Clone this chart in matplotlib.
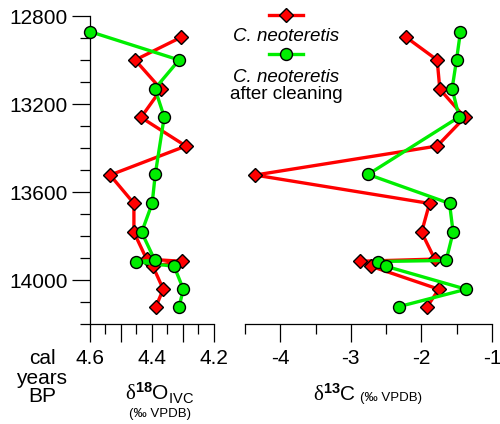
import matplotlib
matplotlib.use("Agg")
import matplotlib.pyplot as plt
from matplotlib.lines import Line2D
from matplotlib.ticker import FixedLocator, FixedFormatter, MultipleLocator
import numpy as np

plt.rcParams['font.family'] = ['Liberation Sans', 'DejaVu Sans']
plt.rcParams['axes.unicode_minus'] = False
plt.rcParams['mathtext.fontset'] = 'custom'
plt.rcParams['mathtext.rm'] = 'Liberation Serif'
plt.rcParams['mathtext.sf'] = 'Liberation Sans'
plt.rcParams['mathtext.bf'] = 'Liberation Sans:bold'
plt.rcParams['mathtext.it'] = 'Liberation Sans:italic'

# ---- data ----
age_red = [12897, 13000, 13133, 13261, 13391, 13523, 13652, 13783,
           13905, 13915, 13937, 14042, 14121]
d18O_red = [4.306, 4.454, 4.370, 4.435, 4.290, 4.535, 4.458, 4.458,
            4.417, 4.303, 4.397, 4.363, 4.387]
d13C_red = [-2.215, -1.777, -1.739, -1.386, -1.777, -4.358, -1.885, -1.998,
            -1.811, -2.874, -2.719, -1.754, -1.918]

age_green = [12871, 13000, 13130, 13259, 13520, 13652, 13783,
             13911, 13916, 13938, 14042, 14121]
d18O_green = [4.600, 4.312, 4.390, 4.360, 4.389, 4.399, 4.433,
              4.390, 4.452, 4.328, 4.298, 4.312]
d13C_green = [-1.447, -1.503, -1.565, -1.466, -2.756, -1.602, -1.551,
              -1.650, -2.610, -2.500, -1.367, -2.318]

y_ticks = [12800, 13200, 13600, 14000]
x1_ticks = [4.6, 4.5, 4.4, 4.3, 4.2]
x1_labels = ['4.6', '', '4.4', '', '4.2']
x2_ticks = [-4, -3, -2, -1]
x2_labels = ['-4', '-3', '-2', '-1']

legend_labels = ['C. neoteretis', 'C. neoteretis', 'after cleaning']

RED = '#FF0000'
GREEN = '#00EE00'

W, H = 500, 424
fig = plt.figure(figsize=(5, 4.24), dpi=100)
top_px, bot_px = 16, 324
ax1 = fig.add_axes([90 / W, 1 - bot_px / H, 123.7 / W, (bot_px - top_px) / H])
ax2 = fig.add_axes([245 / W, 1 - bot_px / H, 247 / W, (bot_px - top_px) / H])

red_kw = dict(color=RED, lw=2.4, marker='D', ms=7.2, mfc=RED, mec='black',
              mew=1.0, clip_on=False, zorder=3)
green_kw = dict(color=GREEN, lw=2.4, marker='o', ms=8.6, mfc=GREEN, mec='black',
                mew=1.0, clip_on=False, zorder=4)

ax1.plot(d18O_red, age_red, **red_kw)
ax1.plot(d18O_green, age_green, **green_kw)
ax2.plot(d13C_red, age_red, **red_kw)
ax2.plot(d13C_green, age_green, **green_kw)

for ax in (ax1, ax2):
    ax.set_ylim(14200, 12800)
    ax.spines['top'].set_visible(False)
    ax.spines['right'].set_visible(False)
    ax.set_facecolor('none')
    for s in ax.spines.values():
        s.set_linewidth(0.9)
    ax.tick_params(axis='both', which='major', direction='out', length=13,
                   width=0.9, labelsize=15, pad=4)
    ax.tick_params(axis='both', which='minor', direction='out', length=7,
                   width=0.9)

ax1.set_xlim(4.6, 4.2)
ax1.xaxis.set_major_locator(FixedLocator(x1_ticks))
ax1.xaxis.set_major_formatter(FixedFormatter(x1_labels))
ax1.xaxis.set_minor_locator(MultipleLocator(0.05))
ax1.yaxis.set_major_locator(FixedLocator(y_ticks))
ax1.yaxis.set_minor_locator(MultipleLocator(100))
ax1.tick_params(axis='x', pad=5)
ax1.tick_params(axis='y', pad=3)

ax2.set_xlim(-4.5, -1)
ax2.xaxis.set_major_locator(FixedLocator(x2_ticks))
ax2.xaxis.set_major_formatter(FixedFormatter(x2_labels))
ax2.xaxis.set_minor_locator(MultipleLocator(0.5))
ax2.spines['left'].set_visible(False)
ax2.yaxis.set_visible(False)
ax2.tick_params(axis='x', pad=5)

# ---- legend (manual, centred between panels) ----
def fx(px):
    return px / W

def fy(py):
    return 1 - py / H

for y_px, kw in ((14.7, red_kw), (54, green_kw)):
    k = dict(kw)
    k.pop('clip_on', None)
    ln = Line2D([fx(269), fx(303)], [fy(y_px), fy(y_px)], transform=fig.transFigure,
                **{kk: vv for kk, vv in k.items() if kk not in ('marker',)})
    fig.add_artist(ln)
    mk = Line2D([fx(286)], [fy(y_px)], transform=fig.transFigure, linestyle='none',
                marker=kw['marker'], ms=kw['ms'], mfc=kw['mfc'], mec='black',
                mew=1.0, zorder=5)
    fig.add_artist(mk)

fig.text(fx(286), fy(40.7), legend_labels[0], style='italic', fontsize=13.5,
         ha='center', va='baseline')
fig.text(fx(286), fy(82.3), legend_labels[1], style='italic', fontsize=13.5,
         ha='center', va='baseline')
fig.text(fx(286), fy(99.3), legend_labels[2], fontsize=13.5,
         ha='center', va='baseline')

# ---- axis labels ----
fig.text(fx(42), fy(378), 'cal\nyears\nBP', fontsize=15, ha='center', va='center',
         linespacing=1.0, multialignment='center')

fig.text(fx(160), fy(401), r'$\mathrm{\delta}^{\mathbf{18}}\mathsf{O}_{\mathsf{IVC}}$',
         fontsize=15, ha='center', va='baseline')
fig.text(fx(160), fy(417), '(‰ VPDB)', fontsize=9.5, ha='center', va='baseline')

fig.text(fx(313), fy(401), r'$\mathrm{\delta}^{\mathbf{13}}\mathsf{C}$',
         fontsize=15, ha='left', va='baseline')
fig.text(fx(360), fy(401), '(‰ VPDB)', fontsize=9.5, ha='left', va='baseline')

fig.savefig('out.png', dpi=100)
